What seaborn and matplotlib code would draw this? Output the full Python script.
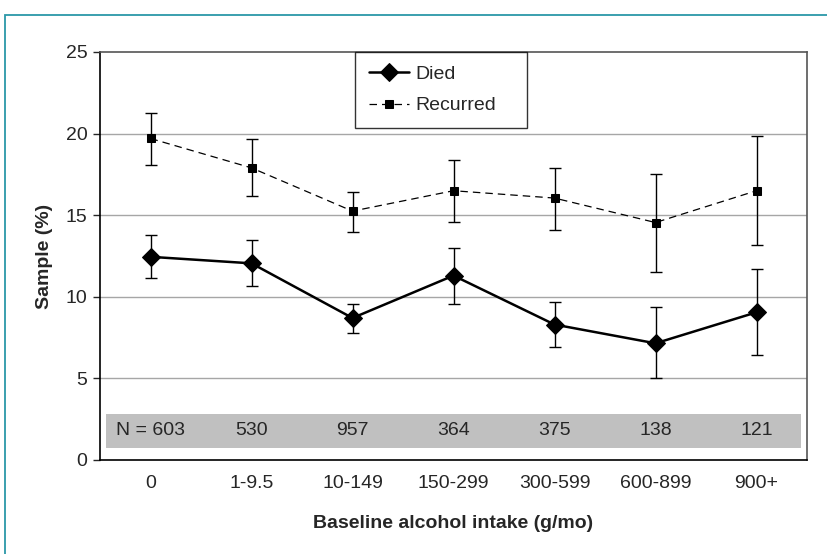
import numpy as np
import pandas as pd
import matplotlib
matplotlib.use("Agg")
import matplotlib.pyplot as plt
import seaborn as sns
from matplotlib.patches import Rectangle

# --- data ---
categories = ["0", "1-9.5", "10-149", "150-299", "300-599", "600-899", "900+"]
n_counts = ["N = 603", "530", "957", "364", "375", "138", "121"]

died = [12.45, 12.05, 8.7, 11.3, 8.3, 7.15, 9.05]
died_lo = [11.15, 10.65, 7.8, 9.55, 6.9, 5.0, 6.45]
died_hi = [13.8, 13.5, 9.55, 13.0, 9.7, 9.4, 11.7]

recurred = [19.7, 17.9, 15.25, 16.5, 16.05, 14.55, 16.5]
rec_lo = [18.05, 16.2, 13.95, 14.6, 14.1, 11.5, 13.2]
rec_hi = [21.25, 19.65, 16.4, 18.4, 17.9, 17.55, 19.85]

sns.set_style("white")
plt.rcParams["font.family"] = ["Liberation Sans", "DejaVu Sans"]

df = pd.DataFrame({"pos": np.arange(len(categories)), "Died": died, "Recurred": recurred})

fig = plt.figure(figsize=(8.27, 5.54), dpi=100)
ax = fig.add_axes([100 / 827, 1 - 460 / 554, 707 / 827, 408 / 554])

# teal frame around the figure (cropped on right/bottom)
fig.patches.append(Rectangle((5 / 827, -0.05), 1.0, 1 - 15 / 554 + 0.05,
                             transform=fig.transFigure, fill=False,
                             edgecolor="#2b97a8", linewidth=1.3))

# grey N band
ax.add_patch(Rectangle((-0.44, 0.74), 6.88, 2.08, facecolor="#c0c0c0",
                       edgecolor="none", zorder=1))
for i, lab in enumerate(n_counts):
    ax.text(i, 1.78, lab, ha="center", va="center", fontsize=14, zorder=2)

for v in [5, 10, 15, 20]:
    ax.axhline(v, color="#a6a6a6", linewidth=1, zorder=0)

pos = df["pos"].values
ax.errorbar(pos, recurred, yerr=[np.array(recurred) - rec_lo, np.array(rec_hi) - recurred],
            fmt="none", ecolor="black", elinewidth=1, capsize=4, capthick=1, zorder=3)
ax.errorbar(pos, died, yerr=[np.array(died) - died_lo, np.array(died_hi) - died],
            fmt="none", ecolor="black", elinewidth=1, capsize=4, capthick=1, zorder=3)

sns.lineplot(data=df, x="pos", y="Died", ax=ax, color="black", linewidth=1.8,
             marker="D", markersize=9, markeredgecolor="black", label="Died", zorder=4)
sns.lineplot(data=df, x="pos", y="Recurred", ax=ax, color="black", linewidth=0.9,
             linestyle=(0, (6, 4)), marker="s", markersize=5.5, markeredgecolor="black",
             label="Recurred", zorder=4)

ax.set_xlim(-0.5, 6.5)
ax.set_ylim(0, 25)
ax.set_yticks([0, 5, 10, 15, 20, 25])
ax.set_xticks(pos)
ax.set_xticklabels(categories)
ax.tick_params(axis="y", which="both", left=True, length=5, width=1, labelsize=14, pad=4)
ax.tick_params(axis="x", bottom=False, labelsize=14, pad=7)

for side in ["left", "bottom"]:
    ax.spines[side].set_color("black")
    ax.spines[side].set_linewidth(1.2)
for side in ["top", "right"]:
    ax.spines[side].set_color("#555555")
    ax.spines[side].set_linewidth(1.2)

ax.set_xlabel("Baseline alcohol intake (g/mo)", fontsize=14, fontweight="bold", labelpad=17)
ax.set_ylabel("Sample (%)", fontsize=14, fontweight="bold", labelpad=9)

leg = ax.legend(loc="upper left",
                bbox_to_anchor=((355 - 100) / 707, 0.0, 172 / 707, 1.0),
                mode="expand", frameon=True, fancybox=False, fontsize=14,
                handlelength=2.1, handletextpad=0.3, borderpad=0.7,
                labelspacing=0.7, borderaxespad=0)
leg.get_frame().set_edgecolor("black")
leg.get_frame().set_linewidth(1)

fig.savefig("out.png", dpi=100)
